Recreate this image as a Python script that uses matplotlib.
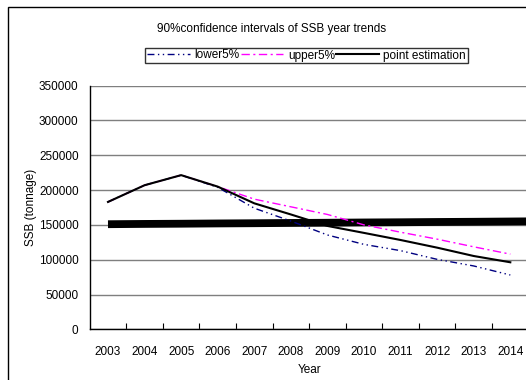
import matplotlib
matplotlib.use("Agg")
import matplotlib.pyplot as plt
from matplotlib.patches import Rectangle
from matplotlib.ticker import FixedLocator, NullFormatter

plt.rcParams["font.family"] = ["Liberation Sans", "DejaVu Sans"]

years = ["2003", "2004", "2005", "2006", "2007", "2008",
         "2009", "2010", "2011", "2012", "2013", "2014"]
lower5 = [183000, 207000, 221500, 204000, 174000, 155500,
          135500, 122000, 113000, 100500, 91000, 78000]
upper5 = [183000, 207000, 221500, 205000, 187000, 176000,
          165000, 150000, 139500, 129500, 118500, 108000]
point_est = [183000, 207000, 221500, 205000, 181000, 165000,
             148500, 138500, 128300, 117300, 105300, 96300]
# reference level drawn as a heavy bar across the years
ref_level = [151000, 151400, 151700, 152100, 152400, 152800,
             153100, 153500, 153800, 154200, 154500, 154900]

W, H = 526, 380
fig = plt.figure(figsize=(W / 100, H / 100), dpi=100)

# chart-area border
fig.patches.append(Rectangle((7.5 / W, -0.1), 1.2, 1.1 - 7.5 / H, transform=fig.transFigure,
                             fill=False, edgecolor="black", lw=1.0, clip_on=False))

ax = fig.add_axes([89.7 / W, 1 - 329.3 / H, (528.6 - 89.7) / W, (329.3 - 85.7) / H])
x = list(range(len(years)))
ax.set_xlim(-0.5, len(years) - 0.5)
ax.set_ylim(0, 350000)

# the heavy bar runs on to the right edge of the plot area
x_end = ax.get_xlim()[1]
step = ref_level[-1] - ref_level[-2]
ref_x = x + [x_end]
ref_y = ref_level + [ref_level[-1] + step * (x_end - x[-1])]
ax.plot(ref_x, ref_y, color="black", lw=5.6, solid_capstyle="butt", zorder=3)

ax.plot(x, lower5, color="#000080", lw=1.0, dashes=(5, 2.5, 1, 2.5, 1, 2.5), label="lower5%", zorder=4)
ax.plot(x, upper5, color="#FF00FF", lw=1.0, dashes=(6, 2.5, 1.5, 2.5), label="upper5%", zorder=4)
ax.plot(x, point_est, color="black", lw=1.5, label="point estimation", zorder=5)

ax.set_yticks(range(0, 350001, 50000))
ax.set_xticks(x)
ax.set_xticklabels(years)
ax.xaxis.set_minor_locator(FixedLocator([i + 0.5 for i in range(len(years) - 1)]))
ax.xaxis.set_minor_formatter(NullFormatter())
ax.tick_params(axis="x", which="major", length=0, labelsize=8.5, pad=12)
ax.tick_params(axis="x", which="minor", direction="in", length=4, width=0.8)
ax.tick_params(axis="y", length=0, labelsize=8.5, pad=8)
ax.grid(axis="y", color="#7f7f7f", lw=1.0)
ax.set_axisbelow(True)
for s in ("top", "right"):
    ax.spines[s].set_visible(False)
for s in ("left", "bottom"):
    ax.spines[s].set_linewidth(1.0)

ax.set_xlabel("Year", fontsize=8.5, labelpad=4)
ax.set_ylabel("SSB (tonnage)", fontsize=8.5, labelpad=1)

fig.text(271.7 / W, 1 - 29 / H, "90%confidence intervals of SSB year trends",
         ha="center", va="center", fontsize=8.5)

leg = fig.legend(loc="center", bbox_to_anchor=(306.5 / W, 1 - 55.5 / H), ncol=3,
                 fontsize=8.5, frameon=True, fancybox=False, handlelength=3.6,
                 handletextpad=0.4, columnspacing=0.1, borderpad=0.15,
                 borderaxespad=0)
leg.get_frame().set_edgecolor("black")
leg.get_frame().set_linewidth(1.0)

fig.savefig("out.png", dpi=100)
